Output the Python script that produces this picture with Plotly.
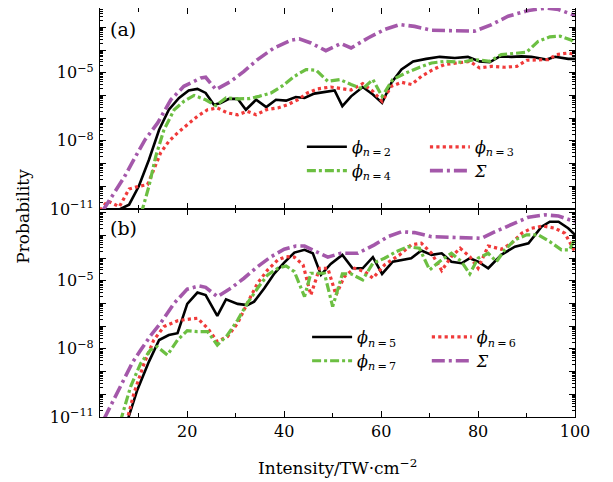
import plotly.graph_objects as go

# ---- panel (a): log10(probability) ----
phi2_x = [2, 4, 6, 8, 10, 12.1, 14.2, 16.2, 18.3, 20.3, 22.1, 23.8, 25.5, 26.9, 28.6,
          30.4, 32.1, 34.2, 36.3, 38.3, 40.4, 42.4, 44.2, 46.2, 48.3, 50.4, 52.0, 53.8,
          56.2, 58.3, 60.2, 62.1, 64.2, 66.6, 69.3, 72.1, 75.2, 77.9, 80.3, 82.4, 84.5,
          86.9, 89.0, 91.0, 94.1, 95.9, 98.6, 100]
phi2_log = [-11.02, -11.02, -11.02, -10.81, -10.0, -8.83, -7.51, -6.63, -6.11, -5.78,
            -5.71, -5.89, -6.41, -6.33, -6.15, -6.15, -6.63, -6.19, -6.51, -6.19, -6.23,
            -6.07, -6.11, -5.92, -5.86, -5.78, -6.47, -6.04, -5.63, -5.96, -6.33, -5.45,
            -4.86, -4.50, -4.39, -4.30, -4.35, -4.30, -4.50, -4.54, -4.28, -4.30, -4.28,
            -4.30, -4.42, -4.30, -4.39, -4.39]

phi3_x = [2.0, 3.6, 6.0, 8.0, 10.0, 11.8, 13.1, 14.5, 16.2, 18.0, 20.0, 22.1, 24.2, 26.2,
          28.3, 30.4, 32.4, 34.2, 36.3, 38.7, 40.7, 42.8, 44.8, 46.9, 49.6, 52.0, 53.8,
          56.2, 58.3, 60.2, 62.1, 64.2, 66.3, 68.3, 70.7, 73.1, 75.6, 78.3, 80.3, 82.8,
          85.5, 88.0, 90.0, 92.4, 94.5, 96.2, 98.6, 100]
phi3_log = [-11.05, -10.65, -10.9, -10.12, -10.0, -9.93, -9.27, -8.53, -8.02, -7.65,
            -7.29, -6.92, -6.63, -6.55, -6.77, -6.85, -6.70, -6.85, -6.63, -6.55, -6.41,
            -6.19, -5.89, -5.71, -5.63, -5.72, -5.76, -5.48, -5.82, -6.26, -5.60, -5.42,
            -5.52, -5.16, -4.86, -4.64, -4.57, -4.50, -4.79, -4.72, -4.76, -4.72, -4.45,
            -4.45, -4.42, -4.20, -4.13, -4.20]

phi4_x = [10.5, 12.1, 13.5, 15.2, 17.3, 19.3, 21.4, 23.8, 25.9, 28.0, 30.4, 32.8, 34.8,
          37.3, 39.7, 42.1, 44.5, 46.6, 49.0, 51.5, 53.8, 56.2, 58.3, 60.2, 62.4, 64.8,
          67.6, 70.4, 73.1, 76.6, 79.3, 82.4, 84.8, 87.6, 90.0, 92.4, 94.8, 96.9, 99.3, 100]
phi4_log = [-11.2, -10.0, -8.68, -7.51, -6.63, -6.26, -6.0, -6.19, -6.45, -6.11, -6.15,
            -6.14, -6.04, -5.89, -5.57, -5.16, -4.86, -4.89, -5.38, -5.30, -5.52, -5.71,
            -5.30, -6.04, -5.30, -5.04, -4.79, -4.57, -4.50, -4.54, -4.42, -4.50, -4.20,
            -4.13, -4.10, -3.62, -3.42, -3.39, -3.57, -3.72]

sum_a_x = [2.5, 4.8, 7.0, 9.3, 11.3, 13.9, 16.6, 19.3, 22.8, 23.8, 25.9, 29.0, 31.7, 34.5,
           37.9, 41.4, 43.1, 45.5, 48.6, 51.7, 53.8, 57.3, 60.7, 63.8, 66.9, 70.4, 74.5,
           79.3, 82.8, 86.2, 90.4, 94.1, 96.6, 100]
sum_a_log = [-11.1, -10.3, -9.6, -8.7, -7.95, -7.21, -6.19, -5.60, -5.23, -5.20, -5.74,
             -5.38, -4.94, -4.42, -3.91, -3.57, -3.51, -3.69, -4.03, -3.72, -3.91, -3.47,
             -3.10, -2.88, -2.96, -3.13, -3.13, -3.17, -2.88, -2.51, -2.26, -2.15, -2.22,
             -2.48]

# ---- panel (b) ----
phi5_x = [7.6, 9.7, 12.1, 14.2, 16.2, 18.0, 20.0, 22.1, 23.8, 26.2, 28.0, 30.4, 32.4,
          33.8, 35.9, 38.0, 40.0, 42.1, 44.2, 45.9, 47.6, 49.6, 52.0, 54.1, 56.2, 58.3,
          60.2, 62.4, 66.2, 68.3, 70.4, 72.5, 74.5, 76.6, 78.3, 80.0, 82.1, 84.8, 87.6,
          90.4, 93.1, 94.8, 96.6, 98.6, 100]
phi5_log = [-11.2, -9.81, -8.56, -7.61, -7.39, -7.31, -6.02, -5.52, -5.63, -6.55, -5.82,
            -6.02, -6.07, -5.92, -5.33, -4.67, -4.20, -3.76, -3.64, -3.79, -4.74, -4.26,
            -3.86, -4.45, -4.45, -3.96, -4.70, -4.16, -4.01, -3.67, -3.86, -3.79, -4.16,
            -4.23, -4.01, -4.16, -4.45, -3.86, -3.50, -3.35, -2.62, -2.40, -2.40, -2.69,
            -2.98]

phi6_x = [7.5, 9.0, 11.1, 13.1, 15.2, 18.0, 20.0, 22.1, 24.2, 26.2, 28.3, 30.4, 32.4,
          34.5, 36.6, 38.7, 40.4, 42.1, 43.9, 45.5, 47.3, 49.0, 50.7, 52.4, 54.5, 56.6,
          58.3, 60.7, 63.8, 66.2, 68.3, 70.4, 72.5, 74.5, 76.3, 78.3, 80.0, 82.1, 84.8,
          86.9, 89.0, 91.0, 93.4, 95.9, 97.9, 100]
phi6_log = [-11.2, -9.96, -8.64, -7.61, -7.02, -6.76, -6.70, -6.65, -7.09, -7.68, -7.46,
            -6.87, -5.99, -5.11, -4.52, -4.08, -3.94, -3.96, -4.30, -5.63, -4.45, -4.45,
            -5.63, -4.82, -4.45, -4.60, -4.89, -4.30, -3.86, -3.42, -3.35, -3.79, -4.55,
            -3.94, -3.57, -3.94, -4.45, -3.47, -3.61, -3.35, -2.91, -2.69, -2.59, -2.69,
            -2.91, -3.72]

phi7_x = [6.2, 8.3, 10.4, 12.4, 13.8, 15.9, 18.0, 20.0, 22.1, 24.2, 26.2, 28.3, 30.4,
          32.4, 34.5, 36.6, 38.7, 40.4, 42.1, 44.2, 45.5, 48.3, 50.0, 52.0, 53.8, 56.2,
          58.3, 60.7, 63.1, 65.5, 67.9, 70.0, 72.5, 74.5, 76.6, 78.3, 80.0, 82.1, 83.8,
          85.5, 87.6, 90.0, 92.4, 94.8, 97.2, 98.9, 100]
phi7_log = [-11.2, -9.67, -8.64, -8.05, -7.90, -8.27, -7.61, -7.20, -7.24, -7.24, -7.83,
            -7.39, -6.73, -5.99, -5.33, -4.74, -4.45, -4.35, -4.60, -5.70, -4.67, -4.67,
            -6.14, -4.70, -4.70, -4.96, -4.23, -4.01, -3.72, -3.50, -3.57, -4.52, -4.08,
            -3.79, -4.16, -4.70, -4.01, -3.79, -4.16, -3.64, -3.20, -2.98, -2.98, -3.28,
            -3.64, -3.64, -3.13]

sum_b_x = [2.8, 4.8, 6.9, 8.7, 10.4, 12.5, 14.5, 17.3, 20.0, 22.4, 23.8, 26.2, 29.0, 31.7,
           34.5, 37.3, 40.0, 42.4, 44.2, 46.6, 49.0, 51.7, 55.2, 58.6, 61.4, 64.2, 66.9,
           70.4, 73.8, 77.3, 80.7, 83.5, 86.9, 90.4, 93.8, 96.6, 100]
sum_b_log = [-11.1, -10.25, -9.37, -8.6, -8.05, -7.4, -6.87, -5.99, -5.37, -5.23, -5.29,
             -5.70, -5.33, -4.89, -4.38, -3.94, -3.61, -3.47, -3.47, -3.72, -3.96, -3.79,
             -3.79, -3.42, -3.06, -2.84, -2.88, -3.06, -3.08, -3.10, -3.13, -2.84, -2.54,
             -2.20, -2.10, -2.15, -2.40]

x_ticks = [20, 40, 60, 80, 100]
x_minor = [10, 30, 50, 70, 90]
y_decades = list(range(-11, -1))
y_labels = {-11: "10<sup>\u221211</sup>", -8: "10<sup>\u22128</sup>", -5: "10<sup>\u22125</sup>"}

BLACK = "#000000"
RED = "#f03a3a"
GREEN = "#6cbf42"
PURPLE = "#a458aa"
FONT = "DejaVu Serif"

styles = {
    "solid": dict(color=BLACK, width=2.6, dash="solid"),
    "dot": dict(color=RED, width=3.2, dash="dot"),
    "dashdot": dict(color=GREEN, width=3.2, dash="9px,3px,3px,3px"),
    "sum": dict(color=PURPLE, width=3.6, dash="13px,4px,3px,4px"),
}


def p(v):
    return [10 ** e for e in v]


def lab(n):
    return "<i>\u03d5</i><sub><i>n</i>\u2009=\u2009%d</sub>" % n


SIGMA = "<i>\u03a3</i>"
fig = go.Figure()
# (x, y, name, style, legend column)
panel_a = [(phi2_x, phi2_log, lab(2), "solid", "legend"),
           (phi3_x, phi3_log, lab(3), "dot", "legend2"),
           (phi4_x, phi4_log, lab(4), "dashdot", "legend"),
           (sum_a_x, sum_a_log, SIGMA, "sum", "legend2")]
panel_b = [(phi5_x, phi5_log, lab(5), "solid", "legend3"),
           (phi6_x, phi6_log, lab(6), "dot", "legend4"),
           (phi7_x, phi7_log, lab(7), "dashdot", "legend3"),
           (sum_b_x, sum_b_log, SIGMA, "sum", "legend4")]

for i, (xs, ys, name, st, lg) in enumerate(panel_a):
    fig.add_trace(go.Scatter(x=xs, y=p(ys), name=name, mode="lines", line=styles[st],
                             xaxis="x2", yaxis="y2", legend=lg, legendgroup="a%d" % i))
for i, (xs, ys, name, st, lg) in enumerate(panel_b):
    fig.add_trace(go.Scatter(x=xs, y=p(ys), name=name, mode="lines", line=styles[st],
                             xaxis="x", yaxis="y", legend=lg, legendgroup="b%d" % i))

minor_y = [k * 10.0 ** d for d in range(-12, -1) for k in range(2, 10)]

xcommon = dict(range=[2, 100], showline=True, linecolor="black", linewidth=1.2,
               mirror="allticks", ticks="inside", ticklen=6, tickcolor="black",
               tickmode="array", tickvals=x_ticks, showgrid=False, zeroline=False,
               automargin=False, ticklabelstandoff=0,
               minor=dict(tickmode="array", tickvals=x_minor, ticks="inside", ticklen=4,
                          tickcolor="black", showgrid=False))
ycommon = dict(type="log", showline=True, linecolor="black", linewidth=1.2,
               mirror="allticks", ticks="inside", ticklen=6, tickcolor="black",
               tickmode="array", tickvals=[10.0 ** d for d in y_decades],
               ticktext=[y_labels.get(d, "") for d in y_decades], showgrid=False,
               automargin=False, ticklabelstandoff=2,
               minor=dict(tickmode="array", tickvals=minor_y, ticks="inside", ticklen=3,
                          tickcolor="black", showgrid=False))

split = 0.5086
leg = dict(orientation="v", xanchor="left", yanchor="top", bgcolor="rgba(0,0,0,0)",
           font=dict(size=16), tracegroupgap=0, itemwidth=40)
fig.update_layout(
    width=605, height=474,
    margin=dict(l=92, r=38, t=0, b=65),
    paper_bgcolor="white", plot_bgcolor="white",
    font=dict(family=FONT, size=16, color="black"),
    xaxis=dict(xcommon, anchor="y", domain=[0, 1]),
    yaxis=dict(ycommon, domain=[0, split], range=[-11, -1.84]),
    xaxis2=dict(xcommon, anchor="y2", domain=[0, 1], matches="x", showticklabels=False),
    yaxis2=dict(ycommon, domain=[split, 1], range=[-11, -2.15]),
    legend=dict(leg, x=0.425, y=0.702),
    legend2=dict(leg, x=0.684, y=0.702),
    legend3=dict(leg, x=0.436, y=0.237),
    legend4=dict(leg, x=0.688, y=0.237),
    annotations=[
        dict(text="(a)", x=0.016, y=0.98, xref="paper", yref="paper", xanchor="left",
             yanchor="top", showarrow=False, font=dict(size=19)),
        dict(text="(b)", x=0.016, y=split - 0.015, xref="paper", yref="paper",
             xanchor="left", yanchor="top", showarrow=False, font=dict(size=19)),
        dict(text="Probability", x=-0.164, y=0.49, xref="paper", yref="paper",
             xanchor="center", yanchor="middle", textangle=-90, showarrow=False,
             font=dict(size=17)),
        dict(text="Intensity/TW\u00b7cm<sup>\u22122</sup>", x=0.5, y=-0.122,
             xref="paper", yref="paper", xanchor="center", yanchor="middle",
             showarrow=False, font=dict(size=17)),
    ],
)

fig.write_html("out.html")
